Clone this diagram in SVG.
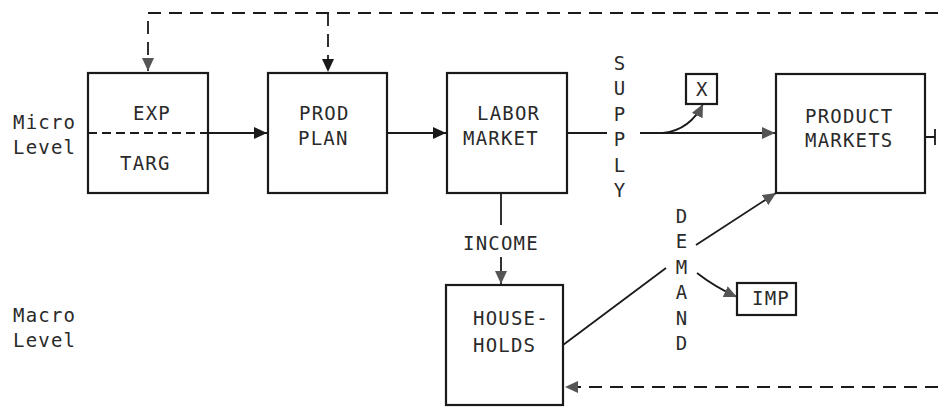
<svg xmlns="http://www.w3.org/2000/svg" width="938" height="407" viewBox="0 0 938 407">
<style>
.box{fill:none;stroke:#1a1a1a;stroke-width:2.2}
.ln{fill:none;stroke:#1a1a1a;stroke-width:1.8}
.dash{fill:none;stroke:#1a1a1a;stroke-width:1.8;stroke-dasharray:13 8}
.t{font-family:"DejaVu Sans Mono","Liberation Mono",monospace;font-size:19px;letter-spacing:1.2px;fill:#2a2a2a}
</style>
<defs>
<marker id="ab" markerUnits="userSpaceOnUse" markerWidth="14" markerHeight="12" refX="13" refY="6" orient="auto"><path d="M0,0 L13,6 L0,12 z" fill="#1a1a1a"/></marker>
<marker id="ag" markerUnits="userSpaceOnUse" markerWidth="14" markerHeight="12" refX="13" refY="6" orient="auto"><path d="M0,0 L13,6 L0,12 z" fill="#555"/></marker>
</defs>
<g id="labels">
<text class="t" x="13" y="129">Micro</text>
<text class="t" x="13" y="154">Level</text>
<text class="t" x="13" y="322">Macro</text>
<text class="t" x="13" y="347">Level</text>
</g>
<g id="connectors">
<path class="dash" d="M938,13 H148 V71" marker-end="url(#ag)"/>
<path class="dash" d="M328,13 V72" marker-end="url(#ab)"/>
<path class="ln" d="M208,133 H267" marker-end="url(#ab)"/>
<path class="ln" d="M387,133 H446" marker-end="url(#ab)"/>
<path class="ln" d="M567,133 H607"/>
<path class="ln" d="M640,133 H775" marker-end="url(#ag)"/>
<path class="ln" d="M663,133 Q690,130 703,104" marker-end="url(#ag)"/>
<path class="ln" d="M925,137 H935 M935,129 V145"/>
<path class="ln" d="M501,193 V225"/>
<path class="ln" d="M501,257 V284" marker-end="url(#ag)"/>
<path class="ln" d="M563,345 L666,268"/>
<path class="ln" d="M696,245 L776,193" marker-end="url(#ag)"/>
<path class="ln" d="M697,273 Q715,287 737,297" marker-end="url(#ag)"/>
<path class="dash" d="M938,387 H565" marker-end="url(#ag)"/>
<text class="t" x="620" y="70" text-anchor="middle">S</text>
<text class="t" x="620" y="95" text-anchor="middle">U</text>
<text class="t" x="620" y="121" text-anchor="middle">P</text>
<text class="t" x="620" y="146" text-anchor="middle">P</text>
<text class="t" x="620" y="172" text-anchor="middle">L</text>
<text class="t" x="620" y="197" text-anchor="middle">Y</text>
<text class="t" x="682" y="223" text-anchor="middle">D</text>
<text class="t" x="682" y="248" text-anchor="middle">E</text>
<text class="t" x="682" y="274" text-anchor="middle">M</text>
<text class="t" x="682" y="299" text-anchor="middle">A</text>
<text class="t" x="682" y="325" text-anchor="middle">N</text>
<text class="t" x="682" y="350" text-anchor="middle">D</text>
<text class="t" x="463" y="250">INCOME</text>
</g>
<g id="exp-targ">
<rect class="box" x="88" y="73" width="120" height="120"/>
<path d="M88,133 H208" fill="none" stroke="#1a1a1a" stroke-width="1.8" stroke-dasharray="9 5"/>
<text class="t" x="133" y="120">EXP</text>
<text class="t" x="120" y="170">TARG</text>
</g>
<g id="prod-plan">
<rect class="box" x="268" y="73" width="119" height="120"/>
<text class="t" x="299" y="120">PROD</text>
<text class="t" x="298" y="145">PLAN</text>
</g>
<g id="labor-market">
<rect class="box" x="447" y="73" width="120" height="120"/>
<text class="t" x="477" y="120">LABOR</text>
<text class="t" x="463" y="145">MARKET</text>
</g>
<g id="x">
<rect class="box" x="686" y="74" width="31" height="30"/>
<text class="t" x="696" y="96">X</text>
</g>
<g id="product-markets">
<rect class="box" x="776" y="74" width="149" height="119"/>
<text class="t" x="805" y="123">PRODUCT</text>
<text class="t" x="805" y="147">MARKETS</text>
</g>
<g id="households">
<rect class="box" x="446" y="285" width="117" height="120"/>
<text class="t" x="473" y="325">HOUSE-</text>
<text class="t" x="473" y="352">HOLDS</text>
</g>
<g id="imp">
<rect class="box" x="737" y="283" width="59" height="32"/>
<text class="t" x="752" y="305">IMP</text>
</g>
</svg>
